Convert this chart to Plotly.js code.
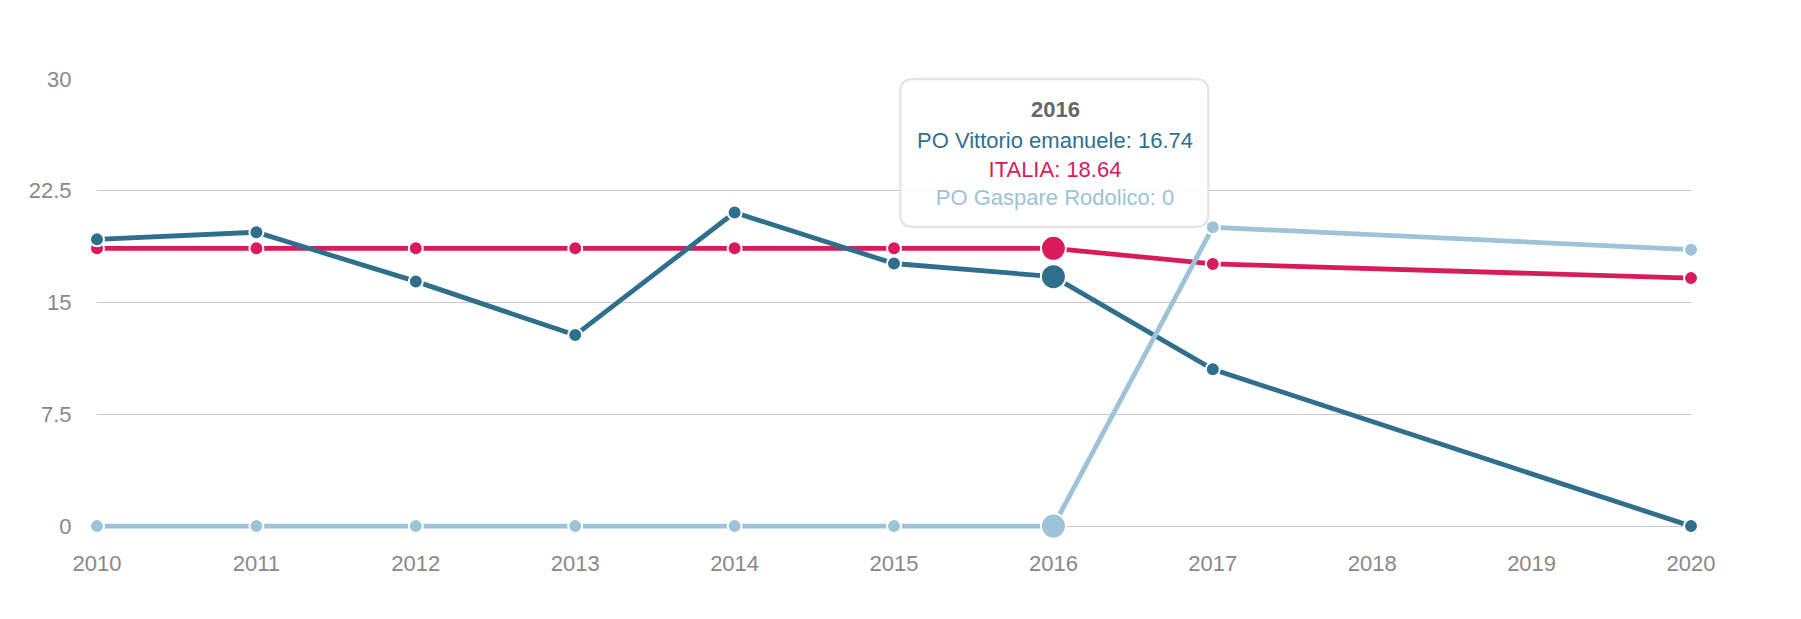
<!DOCTYPE html>
<html>
<head>
<meta charset="utf-8">
<script src="https://cdn.plot.ly/plotly-3.0.1.min.js"></script>
<style>html,body{margin:0;padding:0;background:#fff;}#chart{width:1801px;height:619px;}</style>
</head>
<body>
<div id="chart"></div>
<script>
// ---- data ----
const years = [2010, 2011, 2012, 2013, 2014, 2015, 2016, 2017, 2020];
const vittorio = [19.24, 19.72, 16.42, 12.82, 21.04, 17.62, 16.74, 10.52, 0];
const italia = [18.64, 18.64, 18.64, 18.64, 18.64, 18.64, 18.64, 17.59, 16.64];
const gaspare = [0, 0, 0, 0, 0, 0, 0, 20.05, 18.55];
const seriesNames = ['PO Vittorio emanuele', 'ITALIA', 'PO Gaspare Rodolico'];
const yTicks = [0, 7.5, 15, 22.5, 30];
const xTicks = [2010, 2011, 2012, 2013, 2014, 2015, 2016, 2017, 2018, 2019, 2020];
const hoverYear = 2016;

const cVit = '#2f6f8e', cIta = '#d81b5b', cGas = '#9cc3d7';
const hi = years.indexOf(hoverYear);
function sizes(){ return years.map((y,i)=> i===hi ? 25 : 14); }

function tr(name, ys, color){
  return {x: years, y: ys, name: name, type: 'scatter', mode: 'lines+markers',
    line: {color: color, width: 4.8},
    marker: {color: color, size: sizes(), opacity: 1, line: {color: '#ffffff', width: 2}},
    cliponaxis: false, hoverinfo: 'x+y+name'};
}
const data = [tr(seriesNames[1], italia, cIta), tr(seriesNames[0], vittorio, cVit), tr(seriesNames[2], gaspare, cGas)];

const tipTitle = '<b>' + hoverYear + '</b>';
const tipBody =
  '<span style="color:' + cVit + '">' + seriesNames[0] + ': ' + vittorio[hi] + '</span><br>' +
  '<span style="color:' + cIta + '">' + seriesNames[1] + ': ' + italia[hi] + '</span><br>' +
  '<span style="color:' + cGas + '">' + seriesNames[2] + ': ' + gaspare[hi] + '</span>';

const r = 13, L = -153, R = 155, T = 0, B = -148;
const boxPath = `M ${L+r},${T} L ${R-r},${T} Q ${R},${T} ${R},${T-r} L ${R},${B+r} Q ${R},${B} ${R-r},${B} L ${L+r},${B} Q ${L},${B} ${L},${B+r} L ${L},${T-r} Q ${L},${T} ${L+r},${T} Z`;

const tipFont = {size: 22, color: '#666666', family: 'Liberation Sans, Arial, sans-serif'};
const layout = {
  width: 1801, height: 619,
  margin: {l: 97, r: 109.5, t: 78.7, b: 75.1},
  paper_bgcolor: '#ffffff', plot_bgcolor: '#ffffff',
  showlegend: false,
  font: {family: 'Liberation Sans, Arial, sans-serif', size: 22, color: '#888888'},
  xaxis: {range: [2010, 2020], tickvals: xTicks, ticktext: xTicks.map(String),
    showgrid: false, zeroline: false, showline: false,
    ticks: 'outside', ticklen: 0, tickcolor: 'rgba(0,0,0,0)',
    tickfont: {size: 22, color: '#888888'}},
  yaxis: {range: [-1.2, 30], tickvals: yTicks, ticktext: yTicks.map(String),
    showgrid: true, gridcolor: '#c8c8c8', gridwidth: 1.2, zeroline: false, showline: false,
    ticks: 'outside', ticklen: 20, tickcolor: 'rgba(0,0,0,0)',
    tickfont: {size: 22, color: '#888888'}},
  shapes: [{type: 'path', xref: 'x', yref: 'paper', xsizemode: 'pixel', ysizemode: 'pixel',
    xanchor: hoverYear, yanchor: 1, path: boxPath,
    fillcolor: 'rgba(255,255,255,0.93)', line: {color: '#e6e6e6', width: 2.5}, layer: 'above'}],
  annotations: [
    {xref: 'x', yref: 'paper', x: hoverYear, y: 1, xanchor: 'center', yanchor: 'top',
     xshift: 2, yshift: -16, showarrow: false, align: 'center', text: tipTitle, font: tipFont},
    {xref: 'x', yref: 'paper', x: hoverYear, y: 1, xanchor: 'center', yanchor: 'top',
     xshift: 2, yshift: -47, showarrow: false, align: 'center', text: tipBody, font: tipFont}
  ]
};

Plotly.newPlot('chart', data, layout, {displayModeBar: false, staticPlot: true});
</script>
</body>
</html>
